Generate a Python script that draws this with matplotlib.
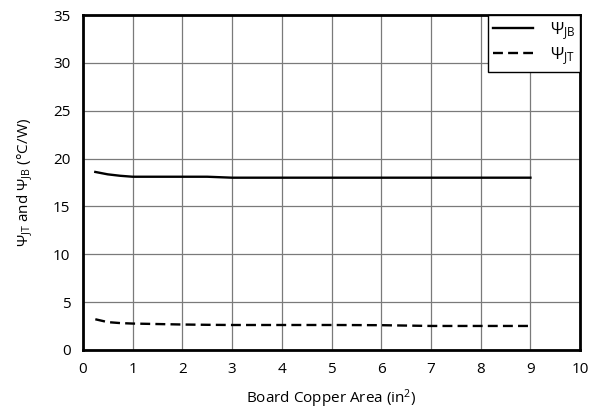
import matplotlib as mpl
import matplotlib.pyplot as plt

# 데이터
area = [0.25, 0.5, 0.75, 1, 2, 2.5, 3, 4, 5, 6, 7, 8, 9]
psi_jb = [18.6, 18.35, 18.2, 18.1, 18.1, 18.1, 18.0, 18.0, 18.0, 18.0, 18.0, 18.0, 18.0]
psi_jt = [3.2, 2.9, 2.8, 2.75, 2.65, 2.62, 2.6, 2.6, 2.6, 2.58, 2.5, 2.5, 2.5]

mpl.rc('font', family='Open Sans', size=11)
mpl.rc('mathtext', fontset='custom', rm='Open Sans', it='Open Sans')

fig = plt.figure(figsize=(5.92, 4.19), dpi=100)
ax = fig.add_axes([0.140, 0.165, 0.840, 0.799])

ax.plot(area, psi_jb, color='black', lw=1.7, label=r'$\mathregular{\Psi_{JB}}$')
ax.plot(area, psi_jt, color='black', lw=1.7, ls=(0, (4.2, 2.2)), label=r'$\mathregular{\Psi_{JT}}$')

ax.set_xlim(0, 10)
ax.set_ylim(0, 35)
ax.set_xticks(range(0, 11))
ax.set_yticks(range(0, 36, 5))
ax.grid(True, color='#7a7a7a', lw=0.9)
ax.tick_params(axis='x', length=0, pad=9)
ax.tick_params(axis='y', length=0, pad=9)
for s in ax.spines.values():
    s.set_linewidth(2)

ax.set_xlabel(r'Board Copper Area (in$^2$)', labelpad=7)
ax.set_ylabel(r'$\mathregular{\Psi_{JT}}$ and $\mathregular{\Psi_{JB}}$ (°C/W)', labelpad=13)

leg = ax.legend(loc='upper right', borderaxespad=0, fancybox=False, framealpha=1,
                edgecolor='black', handlelength=2.4, fontsize=12,
                labelspacing=0.2, borderpad=0.3, handletextpad=1.0)
leg.get_frame().set_linewidth(1.0)

fig.savefig('out.png', dpi=100)
